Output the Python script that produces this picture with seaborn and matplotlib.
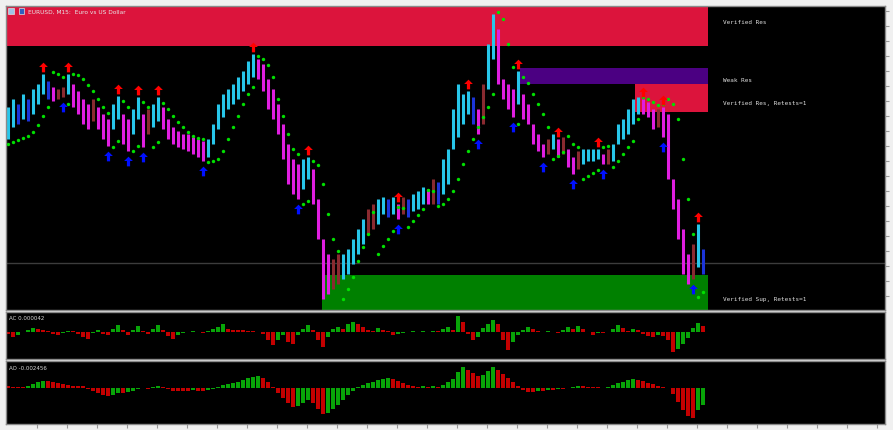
import numpy as np
import pandas as pd
import matplotlib
matplotlib.use("Agg")
import matplotlib.pyplot as plt
import matplotlib.transforms as mtransforms
from matplotlib.path import Path
from matplotlib.patches import Rectangle
import seaborn as sns

# price bars in points above the support base (M15 bars)
high_pts = [203, 211, 206, 216, 211, 221, 226, 236, 229, 223,
            221, 223, 236, 226, 219, 211, 206, 211, 203, 196,
            191, 206, 214, 196, 191, 201, 213, 196, 201, 206,
            213, 203, 191, 183, 179, 176, 176, 173, 171, 169,
            171, 186, 206, 216, 221, 226, 233, 239, 249, 256,
            251, 246, 231, 221, 206, 186, 166, 151, 146, 151,
            153, 141, 111, 71, 56, 51, 56, 56, 61, 71,
            81, 91, 101, 106, 111, 113, 111, 113, 106, 113,
            111, 116, 119, 123, 121, 131, 128, 151, 161, 201,
            226, 216, 219, 213, 201, 226, 266, 296, 281, 231,
            226, 221, 239, 216, 206, 186, 176, 166, 171, 176,
            171, 173, 161, 153, 159, 161, 161, 161, 161, 156,
            161, 166, 186, 191, 201, 211, 213, 211, 208, 201,
            201, 203, 196, 131, 111, 81, 56, 66, 86, 61]
low_pts = [171, 183, 186, 191, 189, 196, 206, 216, 211, 209,
           211, 213, 216, 203, 196, 186, 181, 189, 181, 171,
           164, 181, 191, 166, 159, 176, 191, 163, 176, 183,
           189, 181, 171, 166, 163, 161, 159, 156, 153, 149,
           153, 166, 181, 193, 201, 206, 211, 219, 226, 233,
           231, 219, 201, 191, 176, 151, 126, 116, 111, 121,
           131, 106, 71, 11, 16, 21, 26, 31, 36, 46,
           56, 66, 76, 81, 86, 96, 93, 96, 91, 96,
           93, 99, 101, 106, 106, 106, 106, 116, 126, 161,
           173, 186, 196, 186, 176, 186, 221, 251, 226, 211,
           201, 193, 206, 191, 186, 166, 159, 153, 156, 161,
           153, 156, 143, 136, 141, 146, 149, 149, 151, 146,
           146, 149, 166, 171, 176, 186, 196, 196, 193, 181,
           183, 173, 131, 101, 71, 36, 26, 31, 43, 36]
sar_pts = [166, 168, 170, 172, 174, 178, 185, 194, 203, 238,
           236, 233, 206, 236, 235, 231, 225, 219, 211, 203,
           197, 163, 169, 209, 203, 159, 164, 208, 203, 163,
           168, 207, 201, 194, 188, 183, 178, 174, 172, 171,
           148, 149, 151, 159, 171, 183, 194, 206, 216, 223,
           254, 251, 245, 233, 211, 194, 176, 161, 156, 106,
           109, 149, 145, 126, 96, 71, 59, 11, 21, 33,
           49, 63, 76, 98, 56, 64, 71, 79, 103, 102,
           83, 89, 95, 101, 120, 119, 104, 106, 111, 119,
           131, 146, 159, 171, 183, 193, 203, 216, 298, 291,
           266, 243, 186, 233, 227, 216, 206, 196, 183, 151,
           154, 158, 174, 166, 163, 131, 134, 137, 140, 163,
           164, 143, 149, 156, 163, 169, 191, 213, 211, 208,
           205, 206, 211, 206, 191, 151, 111, 76, 13, 18]

# fractal arrows (bar numbers)
red_arrow_bars = [7, 12, 22, 26, 30, 49, 60, 78, 92, 102, 110, 118, 127, 131, 138]
blue_arrow_bars = [11, 20, 24, 27, 39, 58, 78, 94, 101, 107, 113, 119, 131, 137]

# oscillators (scaled units)
ac_vals = [-2, -5, -3, 0, 2, 4, 3, 2, 1, -2,
           -3, -1, 1, 1, -2, -5, -7, -1, 2, -2,
           -3, 3, 7, 2, -3, 2, 6, 1, -2, 3,
           7, 2, -4, -7, -3, -1, 0, 1, 0, -1,
           1, 3, 5, 8, 3, 2, 2, 2, 1, 1,
           0, -2, -8, -13, -8, -3, -10, -12, -3, 3,
           7, 2, -8, -15, -5, 3, 5, 3, 8, 10,
           8, 5, 2, 1, 4, 2, 1, -3, -2, -1,
           0, 1, 0, 1, 0, 1, 1, 3, 5, 2,
           16, 10, -2, -8, -5, 4, 8, 12, 8, -8,
           -18, -10, -3, 2, 5, 3, 1, 0, 1, 0,
           -1, 2, 5, 3, 6, 3, 0, -3, -1, -1,
           0, 3, 7, 4, 1, 3, 2, -2, -4, -5,
           -3, -4, -8, -20, -17, -12, -6, 4, 9, 6]
ao_vals = [2, 1, 1, 1, 2, 4, 6, 7, 7, 6,
           5, 4, 3, 2, 2, 2, -1, -3, -5, -7,
           -8, -7, -5, -5, -4, -3, -1, 0, -1, 1,
           2, 1, -1, -3, -3, -3, -3, -2, -3, -3,
           -2, -1, 1, 3, 4, 5, 6, 8, 10, 11,
           12, 10, 6, 1, -5, -10, -15, -19, -18, -15,
           -12, -15, -21, -26, -25, -21, -17, -12, -7, -3,
           1, 3, 5, 6, 8, 9, 10, 9, 7, 5,
           3, 2, 1, 2, 1, 2, 1, 3, 6, 9,
           16, 21, 18, 15, 12, 13, 17, 21, 18, 14,
           10, 6, 2, -2, -4, -4, -3, -3, -2, -2,
           -1, -1, 0, 1, 2, 2, 1, 1, 1, 0,
           1, 3, 5, 6, 8, 9, 8, 7, 5, 4,
           2, 1, 0, -6, -14, -22, -28, -30, -22, -17]

# supply / demand zones
zone_labels = ["Verified Res", "Weak Res", "Verified Res, Retests=1", "Verified Sup, Retests=1"]
zone_top = [304, 242, 226, 35]
zone_bottom = [264, 226, 198, 0]
zone_start = [-10, 102.4, 125.4, 62.8]
zone_colors = ["#dc143c", "#4b0082", "#dc143c", "#008000"]
hline_level = 47

W, H = 893, 431
fig = plt.figure(figsize=(W / 100, H / 100), dpi=100, facecolor="#f0f0f0")


def panel(l, t, r, b):
    a = fig.add_axes([l / W, 1 - b / H, (r - l) / W, (b - t) / H])
    a.set_facecolor("black")
    for s in a.spines.values():
        s.set_color("#8a8a8a")
        s.set_linewidth(1.0)
    return a


ax = panel(6, 7, 885, 311)
ax_ac = panel(6, 313, 885, 360)
ax_ao = panel(6, 362, 885, 425)

n = len(high_pts)
bars = np.arange(n)
hi = np.array(high_pts)
lo = np.array(low_pts)
sar = np.array(sar_pts)

# zones
for top, bot, start, col in zip(zone_top, zone_bottom, zone_start, zone_colors):
    ax.add_patch(Rectangle((start, bot), n - start, top - bot, color=col, lw=0, zorder=1))
ax.axhline(hline_level, color="#3c3c3c", lw=1.0, zorder=1.5)

# bars coloured by trend (sar below -> up)
uptrend = sar < lo
mid = (hi + lo) / 2
rising = np.r_[True, np.diff(mid) >= 0]
bar_cols = np.where(uptrend, np.where(rising, "#27c6ea", "#1c34d8"),
                    np.where(rising, "#8a2a30", "#e01ee0"))
ax.vlines(bars, lo, hi, colors=bar_cols, lw=2.2, zorder=2)

# parabolic sar
sns.scatterplot(x=bars, y=sar, color="#00e000", s=6, linewidth=0, ax=ax, zorder=3)

# fractal arrows
arrow = Path([(0, 1), (-0.9, 0.1), (-0.33, 0.1), (-0.33, -1), (0.33, -1), (0.33, 0.1), (0.9, 0.1), (0, 1)],
             [Path.MOVETO] + [Path.LINETO] * 6 + [Path.CLOSEPOLY])
up_tr = mtransforms.offset_copy(ax.transData, fig=fig, y=7, units="dots")
dn_tr = mtransforms.offset_copy(ax.transData, fig=fig, y=-10, units="dots")
ax.plot(red_arrow_bars, hi[red_arrow_bars], ls="none", marker=arrow, ms=7,
        color="#ff0000", mec="none", transform=up_tr, zorder=4)
ax.plot(blue_arrow_bars, lo[blue_arrow_bars], ls="none", marker=arrow, ms=7,
        color="#0010ff", mec="none", transform=dn_tr, zorder=4)

# zone labels
label_shift = [5, -4, -4, -6]
for lab, top, bot, sh in zip(zone_labels, zone_top, zone_bottom, label_shift):
    ax.text(n + 3, (top + bot) / 2 + sh, lab, color="#dedede", fontsize=4.3,
            family="DejaVu Sans Mono", va="center", ha="left")

xlim = (-0.4, 175.4)
ax.set_xlim(*xlim)
ax.set_ylim(0, 304)
ax.set_xticks([])
ax.set_yticks(np.arange(14, 304, 15))
ax.tick_params(axis="y", left=False, right=True, labelleft=False, labelright=False,
               length=3, color="#9a9a9a", direction="out")
ax.set_xlabel("")
ax.set_ylabel("")


def osc(a, vals, name, ylim):
    df = pd.DataFrame({"bar": bars, "v": vals})
    df["dir"] = np.where(df["v"].diff().fillna(0) > 0, "up", "down")
    sns.barplot(data=df, x="bar", y="v", hue="dir", palette={"up": "#08a408", "down": "#c40000"},
                dodge=False, native_scale=True, width=0.9, saturation=1, legend=False,
                errorbar=None, linewidth=0, ax=a)
    a.set_xlim(*xlim)
    a.set_ylim(*ylim)
    a.set_xlabel("")
    a.set_ylabel("")
    a.set_yticks([])
    a.text(0.003, 0.93, name, transform=a.transAxes, color="#d8d8d8", fontsize=4,
           va="top", ha="left")


osc(ax_ac, ac_vals, "AC 0.000042", (-27, 20))
osc(ax_ao, ao_vals, "AO -0.002456", (-36, 27))
ax_ac.set_xticks([])
ax_ao.set_xticks(np.arange(5.8, 176, 6))
ax_ao.tick_params(axis="x", length=3, color="#9a9a9a", direction="out", labelbottom=False)

# window title with icons
fig.add_artist(Rectangle((8 / W, 1 - 15 / H), 6 / W, 6 / H, transform=fig.transFigure,
                         facecolor="#9ec4e8", edgecolor="#e0e0e0", lw=0.5))
fig.add_artist(Rectangle((19 / W, 1 - 15 / H), 5 / W, 6 / H, transform=fig.transFigure,
                         facecolor="#3060c0", edgecolor="#e0e0e0", lw=0.5))
fig.text(28 / W, 1 - 12 / H, "EURUSD, M15:  Euro vs US Dollar", color="#e6e6e6",
         fontsize=4.2, va="center", ha="left")

fig.savefig("out.png", dpi=100, facecolor=fig.get_facecolor())
